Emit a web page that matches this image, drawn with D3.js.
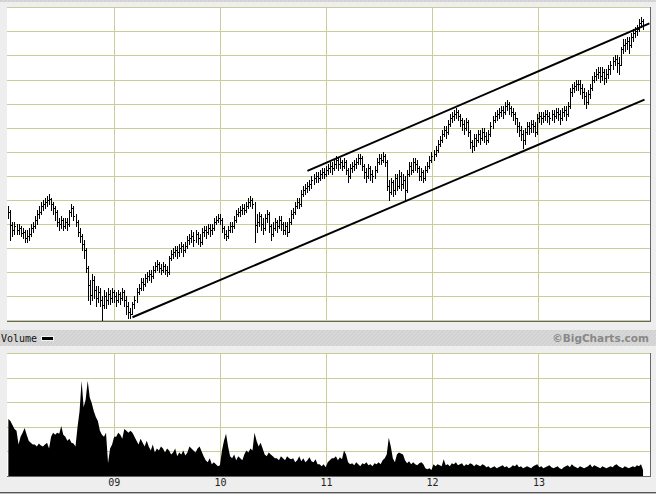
<!DOCTYPE html>
<html>
<head>
<meta charset="utf-8">
<script src="https://cdn.jsdelivr.net/npm/d3@7"></script>
<style>
body { margin: 0; background: #eeeeee; }
svg { display: block; }
</style>
</head>
<body>
<div id="container"></div>
<script>
// weekly bars, first Friday of 2008 through end of 2013
var firstWeek = '2008-01-04';

var closes = [
  108,95,90,94,90,92,87,88,82,84,
  86,92,94,100,106,108,114,116,118,120,
  121,116,112,108,98,96,100,94,98,96,
  108,112,104,98,88,84,76,70,52,35,
  25,40,30,22,28,20,15,24,20,26,
  22,28,24,20,26,22,28,20,14,8,
  6,16,20,28,32,38,36,42,44,46,
  44,50,54,56,52,50,54,50,48,62,
  66,68,70,68,72,74,70,74,80,82,
  84,80,86,82,78,88,90,88,92,90,
  92,98,100,102,100,92,86,84,90,94,
  94,100,106,108,110,112,110,114,118,120,
  116,95,98,104,96,92,102,106,94,86,
  92,98,94,100,96,90,94,88,98,106,
  108,114,118,116,126,130,132,134,136,140,
  142,144,142,146,148,146,150,152,154,152,
  156,160,156,158,154,158,150,144,152,154,
  156,158,162,162,154,148,144,152,146,144,
  150,158,162,160,164,158,134,128,138,130,
  142,134,144,136,140,130,146,154,150,158,
  156,152,144,148,142,150,154,160,164,166,
  170,176,180,186,190,188,196,202,204,206,
  208,204,200,196,192,198,188,178,174,182,
  180,186,182,188,184,180,186,194,200,204,
  206,208,210,208,214,216,212,208,206,202,
  194,190,186,180,188,194,192,196,194,188,
  202,204,202,204,206,204,202,206,204,208,
  206,202,208,210,206,214,228,232,234,236,
  236,232,228,224,218,226,232,240,244,246,
  248,244,248,242,246,250,254,258,260,256,
  254,270,274,276,278,274,282,286,288,290,
  296,298,294
];

var highs = [
  114,110,98,98,96,96,94,92,90,90,
  92,96,98,104,110,114,118,120,122,124,
  126,122,118,114,110,102,104,102,102,102,
  110,116,114,106,100,92,86,80,72,54,
  40,46,44,34,34,32,24,30,28,32,
  30,32,30,28,30,28,32,30,24,18,
  12,18,24,32,36,42,42,46,48,50,
  50,54,58,60,58,56,58,56,54,64,
  70,72,74,74,76,78,76,78,84,86,
  90,88,90,88,86,92,94,94,96,96,
  96,102,104,106,106,102,94,90,94,98,
  98,104,110,112,114,116,116,118,122,124,
  122,118,106,108,106,102,106,110,108,96,
  98,102,100,104,104,98,98,98,102,110,
  112,118,122,122,130,134,136,138,140,144,
  146,148,148,150,152,152,154,156,158,158,
  160,164,162,162,160,162,160,152,156,158,
  160,162,166,166,164,156,152,156,154,150,
  154,162,166,166,168,166,160,140,142,140,
  146,146,150,148,146,144,150,158,158,162,
  162,160,154,152,150,154,158,164,168,170,
  174,180,184,190,194,194,200,206,208,210,
  212,210,206,202,200,202,200,190,180,186,
  186,190,190,192,192,188,190,198,204,208,
  210,212,214,214,218,220,218,214,212,208,
  202,198,194,190,192,198,198,200,200,198,
  206,208,208,208,210,210,208,210,210,212,
  212,210,212,214,214,218,232,236,238,240,
  240,240,236,232,228,230,236,244,248,250,
  252,252,252,250,250,254,258,262,264,264,
  262,272,280,280,282,282,286,290,292,294,
  300,302,300
];

var lows = [
  102,80,84,86,86,86,84,82,78,78,
  80,84,88,92,96,102,106,110,112,114,
  116,110,106,100,94,90,92,90,92,90,
  94,104,100,94,84,78,70,62,48,20,
  16,20,22,14,18,14,0,12,12,16,
  16,18,18,14,18,16,20,14,6,2,
  2,6,12,18,26,30,30,34,38,40,
  38,42,48,50,48,46,48,46,44,46,
  60,62,64,62,64,68,64,68,72,76,
  78,74,78,76,74,76,84,82,86,84,
  86,90,96,98,96,88,82,80,82,88,
  88,92,98,104,104,106,106,108,112,114,
  112,78,88,94,90,86,90,98,88,80,
  84,90,88,92,90,86,86,84,88,96,
  102,106,112,112,114,124,126,128,130,132,
  136,138,138,140,142,142,144,146,148,146,
  150,152,150,152,150,152,146,138,142,148,
  150,152,156,156,150,142,138,142,140,138,
  142,148,156,156,158,154,130,120,126,124,
  126,130,132,130,132,120,128,144,146,148,
  150,148,140,140,138,140,148,152,158,160,
  164,168,174,178,184,182,186,194,198,200,
  202,200,194,190,186,190,184,172,168,170,
  174,178,176,180,178,176,178,184,192,198,
  200,202,204,202,206,210,206,204,200,196,
  188,184,180,172,176,186,186,188,188,184,
  186,198,196,198,200,198,196,200,198,202,
  200,196,200,204,200,204,212,224,228,230,
  230,226,222,216,212,216,222,230,238,240,
  242,238,240,236,238,242,246,250,254,248,
  246,254,266,268,270,266,272,278,282,284,
  288,292,290
];

var volumes = [
  58,56,52,48,46,32,40,44,49,42,
  36,34,32,32,30,33,31,30,32,34,
  28,40,44,42,44,43,51,42,40,36,
  38,34,33,30,50,66,97,70,78,97,
  80,74,66,60,56,46,42,40,44,13,
  28,32,40,40,44,42,38,48,46,44,
  46,44,40,36,32,38,34,30,36,30,
  26,32,24,28,26,30,28,24,28,26,
  22,24,28,20,24,22,26,21,24,30,
  28,26,24,28,30,25,20,16,14,18,
  12,14,12,10,11,26,36,43,30,20,
  18,22,16,20,18,16,22,26,24,28,
  26,44,36,30,34,28,22,20,24,22,
  20,18,18,16,20,18,16,20,18,17,
  18,14,16,20,15,18,14,16,19,15,
  14,17,12,12,10,12,9,14,16,18,
  18,20,16,19,17,26,22,14,12,13,
  11,14,12,10,13,12,14,11,12,10,
  13,12,14,12,16,18,22,39,30,18,
  14,22,24,23,22,16,13,15,12,14,
  12,11,13,14,12,8,7,8,6,12,
  10,12,11,10,17,11,12,10,13,12,
  14,11,12,13,10,12,11,13,12,10,
  12,11,10,12,11,9,10,8,9,10,
  8,9,10,11,9,10,8,9,11,10,
  12,9,10,8,9,10,9,8,10,11,
  12,9,10,8,9,10,11,9,8,9,
  10,8,7,9,10,11,9,12,10,9,
  8,10,9,8,9,10,12,9,11,10,
  9,8,10,9,8,9,10,9,11,12,
  10,9,8,10,9,8,9,10,9,11,
  10,12,6
];

var yearTicks = ['2009-01-01', '2010-01-01', '2011-01-01', '2012-01-01', '2013-01-01'];
var priceGrid = [24, 48, 72, 96, 120, 144, 168, 192, 216, 240, 264, 288];
var volGrid = [25, 50, 75, 100];
var lowerTrend = [['2009-03-06', 3], ['2014-01-01', 220]];
var upperTrend = [['2010-10-29', 149], ['2014-01-18', 296]];

var W = 656, H = 494;
var parse = d3.timeParse('%Y-%m-%d');
var start = parse(firstWeek);
var bars = closes.map(function (c, i) {
  return { date: d3.timeFriday.offset(start, i), c: c, h: highs[i], l: lows[i], v: volumes[i] };
});

var svg = d3.select('#container').append('svg')
  .attr('width', W).attr('height', H);

var defs = svg.append('defs');
var hatch = defs.append('pattern').attr('id', 'hatch')
  .attr('width', 4).attr('height', 4).attr('patternUnits', 'userSpaceOnUse');
hatch.append('rect').attr('width', 4).attr('height', 4).attr('fill', '#d2d2d2');
hatch.append('path').attr('d', 'M0,4 L4,0 M-1,1 L1,-1 M3,5 L5,3')
  .attr('stroke', '#dcdcdc').attr('stroke-width', 1);

svg.append('rect').attr('width', W).attr('height', H).attr('fill', '#eeeeee');
svg.append('rect').attr('x', 0).attr('y', 0).attr('width', W).attr('height', 2).attr('fill', 'url(#hatch)');

var left = 7, right = 650;
var x = d3.scaleTime()
  .domain([parse('2008-01-01'), parse('2014-01-01')])
  .range([7.5, 644.5]);
var y = d3.scaleLinear().domain([0, 312]).range([320.3, 7.3]);
var yv = d3.scaleLinear().domain([0, 125]).range([476, 353.3]);

var grid = '#cccc99';
function px(v) { return Math.round(v) + 0.5; }

// ---- price pane ----
var pp = svg.append('g');
pp.append('rect').attr('x', left).attr('y', 7).attr('width', right - left).attr('height', 314).attr('fill', '#fff');
pp.selectAll('.hg').data([0].concat(priceGrid, [312])).enter().append('line')
  .attr('x1', left).attr('x2', right)
  .attr('y1', function (d) { return px(y(d)); }).attr('y2', function (d) { return px(y(d)); })
  .attr('stroke', grid).attr('shape-rendering', 'crispEdges');
pp.selectAll('.vg').data(yearTicks).enter().append('line')
  .attr('x1', function (d) { return px(x(parse(d))); }).attr('x2', function (d) { return px(x(parse(d))); })
  .attr('y1', 7).attr('y2', 321)
  .attr('stroke', grid).attr('shape-rendering', 'crispEdges');
pp.append('line').attr('x1', right + 0.5).attr('x2', right + 0.5).attr('y1', 7).attr('y2', 322)
  .attr('stroke', '#666').attr('shape-rendering', 'crispEdges');
pp.append('line').attr('x1', left).attr('x2', right + 1).attr('y1', 321.5).attr('y2', 321.5)
  .attr('stroke', '#666').attr('shape-rendering', 'crispEdges');

var hlc = pp.append('g').attr('stroke', '#000').attr('stroke-width', 1).attr('shape-rendering', 'crispEdges');
hlc.selectAll('.bar').data(bars).enter().append('line')
  .attr('x1', function (d) { return px(x(d.date)); }).attr('x2', function (d) { return px(x(d.date)); })
  .attr('y1', function (d) { return Math.round(y(d.h)); }).attr('y2', function (d) { return Math.round(y(d.l)) + 1; });
hlc.selectAll('.tick').data(bars).enter().append('line')
  .attr('x1', function (d) { return px(x(d.date)); }).attr('x2', function (d) { return px(x(d.date)) + 1.5; })
  .attr('y1', function (d) { return px(y(d.c)); }).attr('y2', function (d) { return px(y(d.c)); });

var trend = d3.line()
  .x(function (d) { return x(parse(d[0])); })
  .y(function (d) { return y(d[1]); });
pp.selectAll('.trend').data([lowerTrend, upperTrend]).enter().append('path')
  .attr('d', trend).attr('fill', 'none').attr('stroke', '#000').attr('stroke-width', 2);

// ---- volume caption band ----
svg.append('rect').attr('x', 0).attr('y', 330).attr('width', W).attr('height', 16).attr('fill', 'url(#hatch)');
svg.append('text').attr('x', 1).attr('y', 342)
  .attr('font-family', 'DejaVu Sans Mono').attr('font-size', 10).attr('fill', '#111')
  .text('Volume');
svg.append('rect').attr('x', 41.5).attr('y', 336.5).attr('width', 12).attr('height', 4)
  .attr('fill', '#000').attr('stroke', '#f4f4f4').attr('stroke-width', 1);
svg.append('text').attr('x', 649).attr('y', 342).attr('text-anchor', 'end')
  .attr('font-family', 'DejaVu Sans').attr('font-weight', 'bold').attr('font-size', 10.5).attr('fill', '#888')
  .text('\u00A9BigCharts.com');

// ---- volume pane ----
var vp = svg.append('g');
vp.append('rect').attr('x', left).attr('y', 353).attr('width', right - left).attr('height', 123).attr('fill', '#fff');
vp.selectAll('.hg').data([125].concat(volGrid)).enter().append('line')
  .attr('x1', left).attr('x2', right)
  .attr('y1', function (d) { return px(yv(d)); }).attr('y2', function (d) { return px(yv(d)); })
  .attr('stroke', grid).attr('shape-rendering', 'crispEdges');
vp.selectAll('.vg').data(yearTicks).enter().append('line')
  .attr('x1', function (d) { return px(x(parse(d))); }).attr('x2', function (d) { return px(x(parse(d))); })
  .attr('y1', 353).attr('y2', 476)
  .attr('stroke', grid).attr('shape-rendering', 'crispEdges');

var area = d3.area()
  .x(function (d) { return x(d.date); })
  .y0(yv(0))
  .y1(function (d) { return yv(d.v); });
vp.append('path').datum(bars).attr('d', area).attr('fill', '#000');

vp.append('line').attr('x1', right + 0.5).attr('x2', right + 0.5).attr('y1', 353).attr('y2', 477)
  .attr('stroke', '#666').attr('shape-rendering', 'crispEdges');
vp.append('line').attr('x1', left).attr('x2', right + 1).attr('y1', 476.5).attr('y2', 476.5)
  .attr('stroke', '#666').attr('shape-rendering', 'crispEdges');

// ---- year labels ----
var xAxis = d3.axisBottom(x)
  .tickValues(yearTicks.map(parse))
  .tickFormat(d3.timeFormat('%y'))
  .tickSize(0).tickPadding(0);
var ax = svg.append('g').attr('transform', 'translate(0,479)').call(xAxis);
ax.select('.domain').remove();
ax.selectAll('text').attr('font-family', 'DejaVu Sans Mono').attr('font-size', 10)
  .attr('fill', '#222').attr('dy', '0.71em');

svg.append('line').attr('x1', 0).attr('x2', W).attr('y1', 492.5).attr('y2', 492.5)
  .attr('stroke', '#555').attr('shape-rendering', 'crispEdges');
svg.append('rect').attr('x', 0).attr('y', 493).attr('width', W).attr('height', 1).attr('fill', '#bbb');
</script>
</body>
</html>
